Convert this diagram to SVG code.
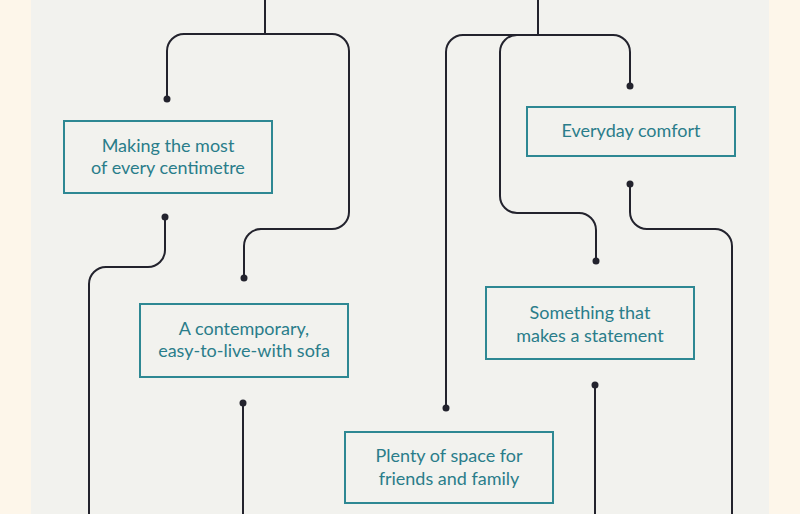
<svg xmlns="http://www.w3.org/2000/svg" width="800" height="514" viewBox="0 0 800 514">
<style>
.bg{fill:#fdf6ea}
.panel{fill:#f2f2ee}
.box rect{fill:none;stroke:#2e8893;stroke-width:2}
.box text{font-family:Lato,"Noto Sans",sans-serif;font-size:18px;fill:#2a7d8a;text-anchor:middle}
.links path{fill:none;stroke:#23232d;stroke-width:2}
.links circle{fill:#23232d}
</style>
<rect class="bg" x="0" y="0" width="800" height="514"/>
<rect class="panel" x="31" y="0" width="738" height="514"/>
<g class="links">
<path d="M265,0 V34"/>
<path d="M167,99 V51 A17,17 0 0 1 184,34 H332 A17,17 0 0 1 349,51 V212 A17,17 0 0 1 332,229 H261 A17,17 0 0 0 244,246 V278"/>
<path d="M165,217 V250 A17,17 0 0 1 148,267 H106 A17,17 0 0 0 89,284 V514"/>
<path d="M243,403 V514"/>
<path d="M538,0 V35"/>
<path d="M446,408 V52 A17,17 0 0 1 463,35 H613 A17,17 0 0 1 630,52 V86"/>
<path d="M517,35 A17,17 0 0 0 500,52 V196 A17,17 0 0 0 517,213 H579 A17,17 0 0 1 596,230 V261"/>
<path d="M630,184 V212 A17,17 0 0 0 647,229 H715 A17,17 0 0 1 732,246 V514"/>
<path d="M595,385 V514"/>
<circle cx="167" cy="99" r="3.5"/>
<circle cx="244" cy="278" r="3.5"/>
<circle cx="165" cy="217" r="3.5"/>
<circle cx="243" cy="403" r="3.5"/>
<circle cx="446" cy="408" r="3.5"/>
<circle cx="630" cy="86" r="3.5"/>
<circle cx="596" cy="261" r="3.5"/>
<circle cx="630" cy="184" r="3.5"/>
<circle cx="595" cy="385" r="3.5"/>
</g>
<g id="n1" class="box"><rect x="64" y="121" width="208" height="72"/><text x="168" y="152">Making the most</text><text x="168" y="174">of every centimetre</text></g>
<g id="n2" class="box"><rect x="140" y="304" width="208" height="73"/><text x="244" y="335">A contemporary,</text><text x="244" y="357">easy-to-live-with sofa</text></g>
<g id="n3" class="box"><rect x="345" y="432" width="208" height="71"/><text x="449" y="462">Plenty of space for</text><text x="449" y="485">friends and family</text></g>
<g id="n4" class="box"><rect x="527" y="107" width="208" height="49"/><text x="631" y="137">Everyday comfort</text></g>
<g id="n5" class="box"><rect x="486" y="287" width="208" height="72"/><text x="590" y="319">Something that</text><text x="590" y="342">makes a statement</text></g>
</svg>
